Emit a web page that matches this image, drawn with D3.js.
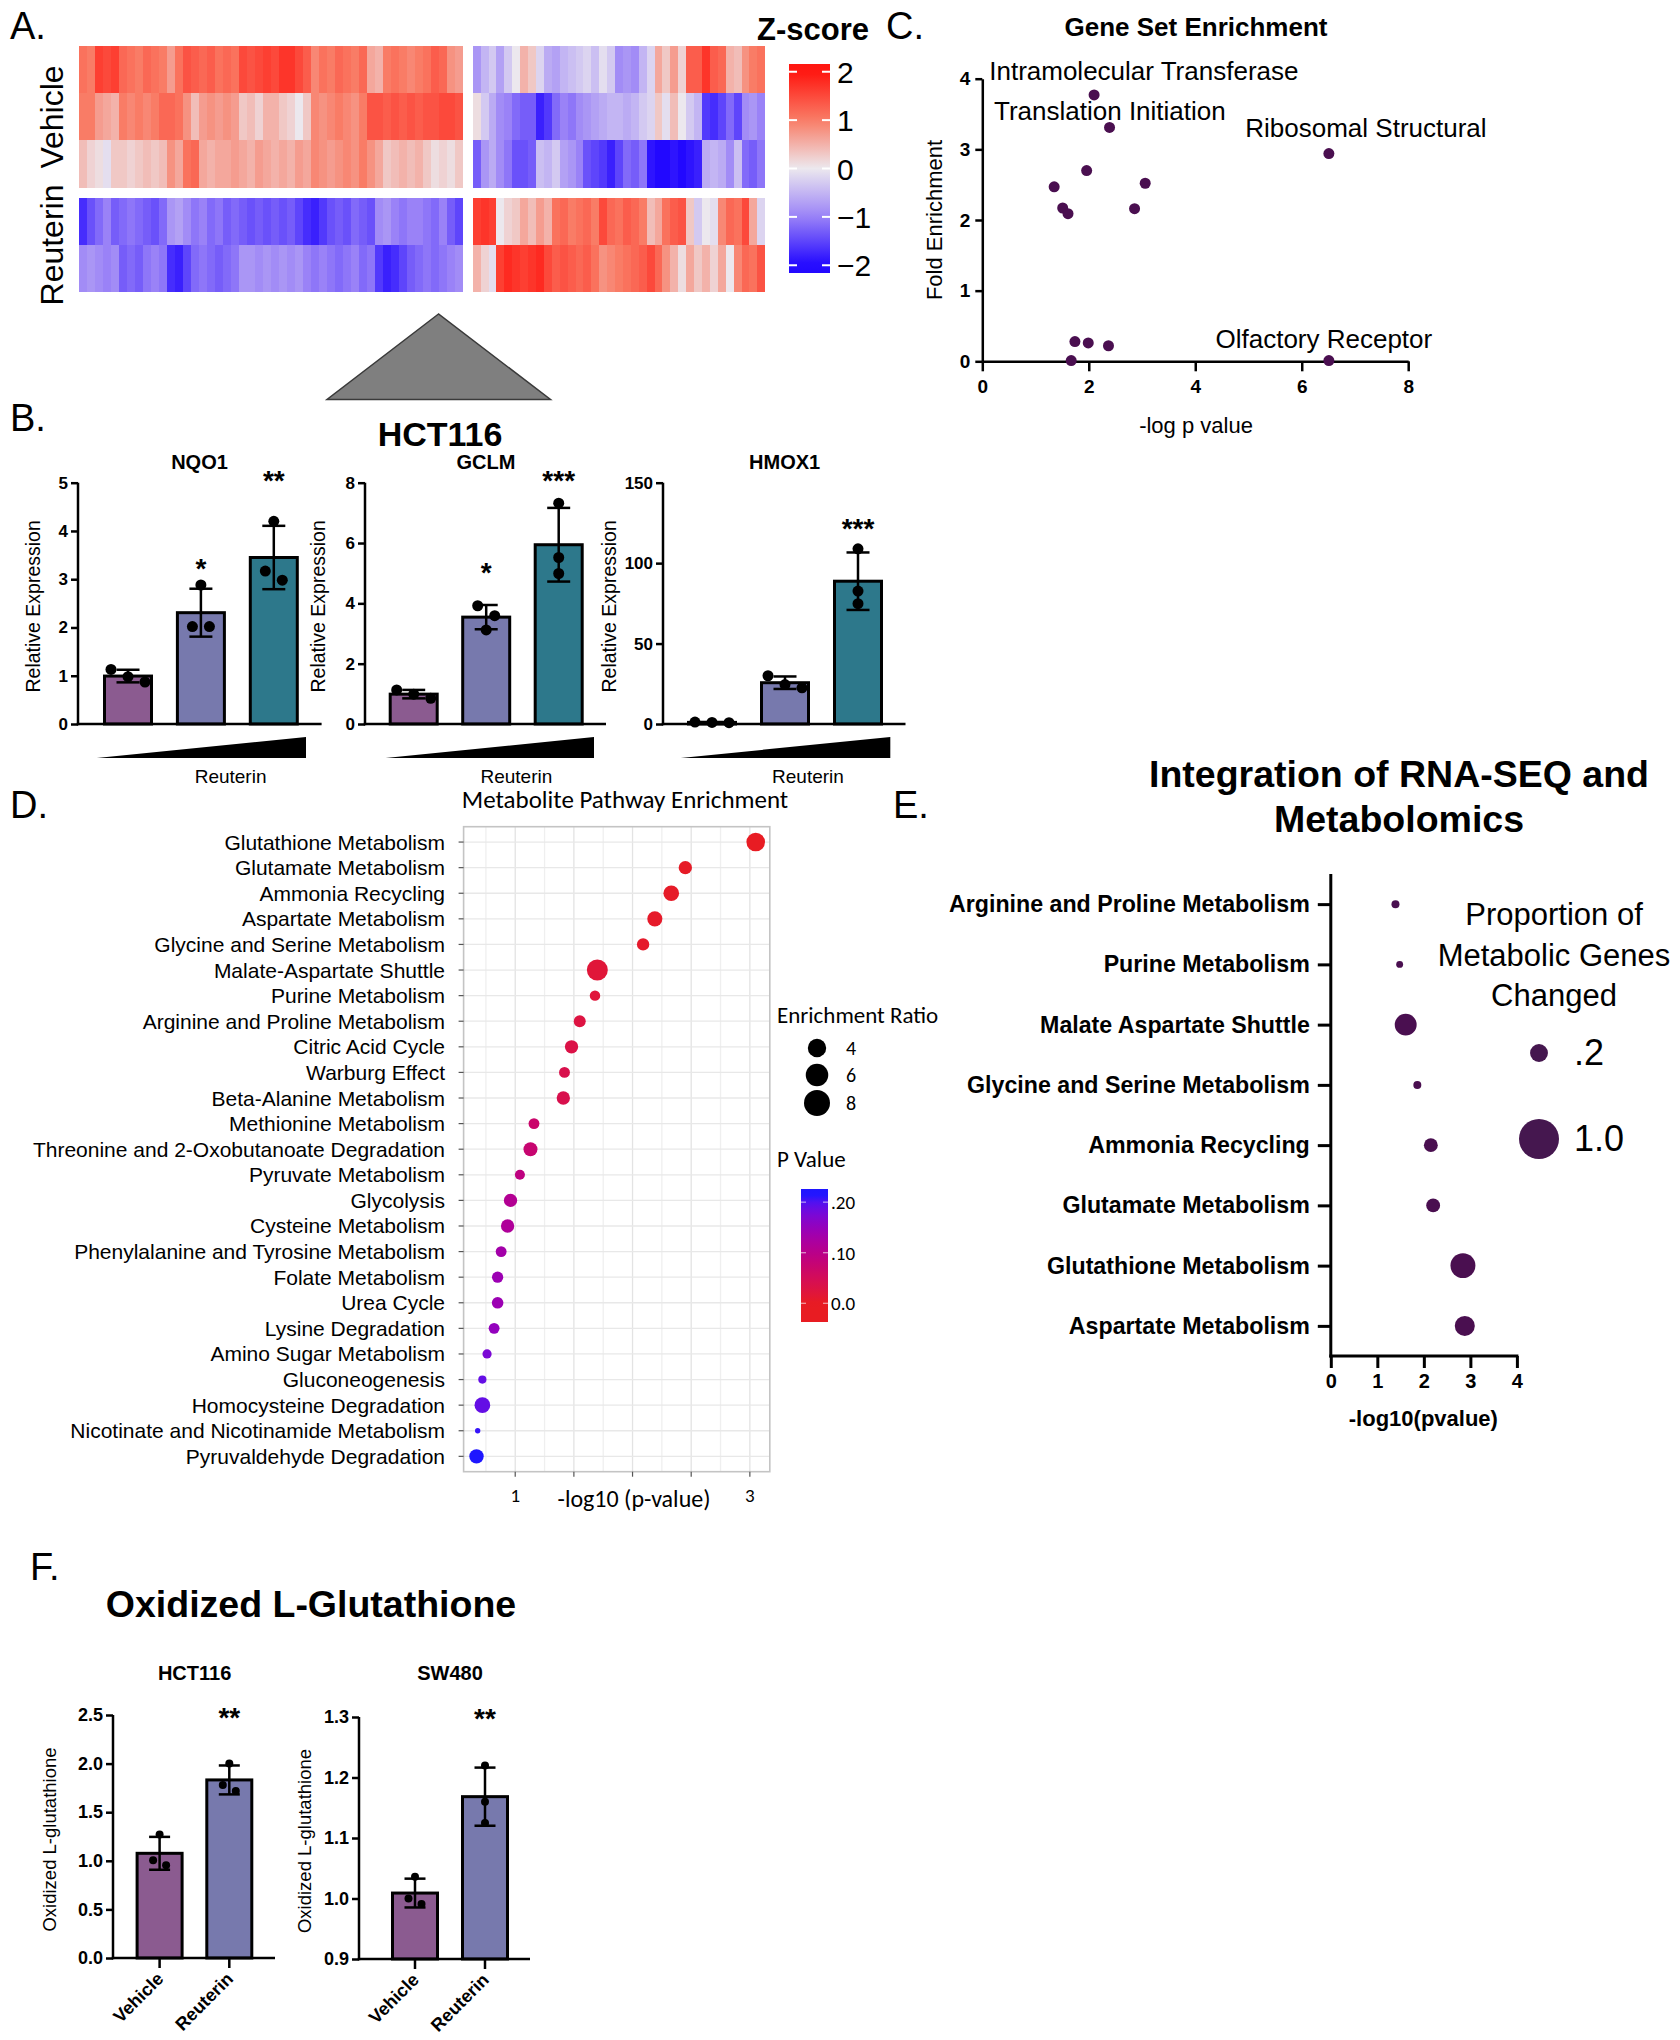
<!DOCTYPE html>
<html>
<head>
<meta charset="utf-8">
<title>Reuterin multi-panel figure</title>
<script src="https://cdn.jsdelivr.net/npm/d3@7/dist/d3.min.js"></script>
<style>
html,body{margin:0;padding:0;background:#ffffff;}
svg{display:block;}
</style>
</head>
<body>
<div id="fig"></div>
<script>
// ======================= DATA =======================
// Panel A: z-scored expression, rows = Vehicle x3, Reuterin x2
const heatRowGroups = ["Vehicle", "Reuterin"];
const heatLeft = [
  [1.1,1.0,1.6,1.5,1.6,1.2,1.1,1.0,1.2,1.1,1.0,0.7,1.1,1.4,1.3,1.2,1.3,1.1,1.2,1.1,1.5,1.4,1.5,1.6,1.5,1.7,1.7,1.5,1.3,0.9,1.1,1.0,1.2,1.1,1.0,1.2,0.6,0.5,1.0,1.1,1.0,0.9,1.0,1.1,1.3,1.2,0.8,0.7],
  [1.0,1.0,0.7,0.6,0.5,1.0,0.9,1.0,0.9,1.0,1.2,1.2,1.1,0.8,0.4,0.7,0.8,0.7,0.8,0.7,0.3,0.4,0.2,0.5,0.5,0.3,0.2,0.0,0.3,0.9,0.8,0.9,1.0,0.9,0.8,1.0,1.4,1.4,1.3,1.4,1.3,1.4,1.3,1.4,1.4,1.5,1.5,1.4],
  [0.4,0.2,0.1,-0.1,0.3,0.3,0.2,0.3,0.4,0.3,0.4,0.8,0.6,1.1,1.2,0.6,0.5,0.6,0.6,0.7,0.6,0.5,0.7,0.6,0.5,0.6,0.5,0.7,0.6,0.9,0.8,0.7,0.8,0.9,0.8,1.0,0.8,0.6,0.3,0.4,0.5,0.4,0.5,0.3,0.1,0.2,0.1,0.3],
  [-1.7,-1.4,-1.2,-1.0,-1.3,-1.2,-1.1,-1.2,-1.3,-1.4,-1.2,-0.8,-0.7,-0.9,-1.1,-1.0,-1.2,-1.1,-1.3,-1.2,-1.3,-1.4,-1.3,-1.4,-1.3,-1.4,-1.3,-1.5,-1.7,-1.8,-1.6,-1.4,-1.3,-1.4,-1.2,-1.3,-1.4,-0.9,-0.8,-1.0,-1.1,-1.0,-1.0,-1.1,-1.2,-1.0,-1.3,-1.5],
  [-0.9,-0.8,-0.9,-1.0,-0.9,-1.3,-1.2,-1.3,-1.1,-1.0,-1.1,-1.7,-1.8,-1.5,-1.2,-1.1,-1.2,-1.3,-1.2,-1.1,-0.8,-0.8,-0.9,-0.8,-0.9,-0.8,-0.9,-0.8,-1.0,-1.1,-1.0,-1.1,-1.2,-1.1,-1.0,-1.2,-1.1,-1.6,-1.8,-1.7,-1.5,-1.3,-1.2,-1.1,-1.2,-1.1,-1.0,-0.9]
];
const heatRight = [
  [-0.8,-0.5,-0.3,-0.7,-0.3,0.0,0.5,0.3,-0.2,-0.6,-0.7,-0.5,-0.4,-0.3,-0.2,-0.4,-0.1,-0.3,-0.9,-0.8,-0.9,-0.5,-0.2,0.6,0.3,0.7,0.2,1.3,1.3,1.7,1.3,1.2,0.5,0.4,0.8,1.0,1.1],
  [0.1,-0.3,-0.6,-0.9,-1.0,-1.2,-1.3,-1.3,-1.8,-1.6,-1.2,-1.0,-1.1,-0.9,-0.8,-0.7,-0.6,-0.5,-0.5,-0.6,-0.5,-0.3,-0.2,0.3,-0.1,0.4,0.0,-0.3,-0.5,-1.6,-1.7,-1.5,-1.2,-1.5,-0.9,-0.8,-1.0],
  [-1.3,-0.8,-0.6,-0.9,-1.1,-1.4,-1.4,-1.3,-0.4,-0.5,-0.3,-0.7,-0.8,-1.0,-1.4,-1.5,-1.6,-1.8,-1.5,-1.2,-1.3,-1.1,-1.9,-2.0,-2.0,-1.9,-2.0,-1.9,-1.8,-0.6,-0.5,-0.6,-0.9,-0.4,-1.2,-1.3,-1.1],
  [1.6,1.7,1.6,0.0,0.2,0.3,0.6,0.4,0.7,0.5,1.1,1.2,1.0,1.1,1.2,1.0,1.5,1.2,1.1,1.3,1.2,1.0,0.4,0.6,1.1,1.3,1.4,0.3,-0.3,0.0,-0.1,0.9,1.2,1.1,1.5,0.6,-0.2],
  [0.5,0.2,-0.1,1.6,1.8,1.7,1.6,1.7,1.8,1.5,1.3,1.4,1.3,1.2,1.3,1.1,0.8,0.9,1.0,1.1,1.2,1.3,1.5,1.2,0.8,0.5,0.1,0.6,0.3,0.5,0.2,0.6,0.0,0.9,1.2,1.1,1.4]
];
const zTicks = [2, 1, 0, -1, -2];

// Panel B: HCT116 relative expression, replicate values per dose
const doseLevels = ["Low", "Mid", "High"];
const nqo1Reps  = [[1.13,0.87,0.98],[2.88,2.02,2.02],[4.20,2.98,3.17]];
const gclmReps  = [[1.13,0.85,0.99],[3.92,3.59,3.12],[7.32,5.52,4.99]];
const hmox1Reps = [[1.2,0.8,1.0],[30.0,22.5,24.5],[108.9,82.6,74.8]];
const nqo1Stars  = ["", "*", "**"];
const gclmStars  = ["", "*", "***"];
const hmox1Stars = ["", "", "***"];
const nqo1Ticks  = [0,1,2,3,4,5];
const gclmTicks  = [0,2,4,6,8];
const hmox1Ticks = [0,50,100,150];

// Panel C: gene set enrichment
const gseaNegLogP = [2.10,2.39,6.51,1.35,1.51,1.61,1.96,3.06,2.86,1.74,1.99,2.37,1.67,6.51];
const gseaFold    = [3.77,3.31,2.94,2.47,2.17,2.09,2.70,2.52,2.16,0.28,0.26,0.22,0.01,0.01];
const gseaLabels  = ["Intramolecular Transferase","Translation Initiation","Ribosomal Structural","Olfactory Receptor"];
const gseaXTicks  = [0,2,4,6,8];
const gseaYTicks  = [0,1,2,3,4];

// Panel D: metabolite pathway enrichment
const pathways = ["Glutathione Metabolism","Glutamate Metabolism","Ammonia Recycling","Aspartate Metabolism",
  "Glycine and Serine Metabolism","Malate-Aspartate Shuttle","Purine Metabolism","Arginine and Proline Metabolism",
  "Citric Acid Cycle","Warburg Effect","Beta-Alanine Metabolism","Methionine Metabolism",
  "Threonine and 2-Oxobutanoate Degradation","Pyruvate Metabolism","Glycolysis","Cysteine Metabolism",
  "Phenylalanine and Tyrosine Metabolism","Folate Metabolism","Urea Cycle","Lysine Degradation",
  "Amino Sugar Metabolism","Gluconeogenesis","Homocysteine Degradation","Nicotinate and Nicotinamide Metabolism",
  "Pyruvaldehyde Degradation"];
const pathNegLogP = [3.05,2.45,2.33,2.19,2.09,1.70,1.68,1.55,1.48,1.42,1.41,1.16,1.13,1.04,0.96,0.935,0.88,0.85,0.85,0.82,0.76,0.72,0.72,0.68,0.67];
const pathEnrich  = [4.1,2.1,2.9,2.7,1.8,5.2,1.3,1.7,2.1,1.4,2.1,1.4,2.3,1.2,2.1,2.1,1.4,1.5,1.6,1.4,1.0,0.8,2.9,0.34,2.45];
const pathPValue  = [0.001,0.004,0.005,0.006,0.008,0.020,0.021,0.028,0.033,0.038,0.039,0.069,0.074,0.091,0.110,0.116,0.132,0.141,0.141,0.151,0.174,0.190,0.190,0.209,0.214];
const enrichLegend = [4, 6, 8];
const pLegendTicks = [0.20, 0.10, 0.0];

// Panel E: integration of RNA-seq and metabolomics
const integCats = ["Arginine and Proline Metabolism","Purine Metabolism","Malate Aspartate Shuttle",
  "Glycine and Serine Metabolism","Ammonia Recycling","Glutamate Metabolism","Glutathione Metabolism","Aspartate Metabolism"];
const integNegLogP = [1.39,1.48,1.61,1.86,2.15,2.20,2.84,2.88];
const integProp    = [0.04,0.03,0.30,0.04,0.12,0.12,0.39,0.25];
const integLegend  = [0.2, 1.0];
const integXTicks  = [0,1,2,3,4];

// Panel F: oxidized L-glutathione
const oxCats = ["Vehicle", "Reuterin"];
const hctOxReps = [[1.27,0.955,1.006],[2.0,1.717,1.779]];
const swOxReps  = [[1.036,0.991,1.0],[1.22,1.16,1.125]];
const hctOxTicks = [0,0.5,1.0,1.5,2.0,2.5];
const swOxTicks  = [0.9,1.0,1.1,1.2,1.3];

// ======================= DRAWING =======================
const W = 1680, H = 2040;
const SANS = "'Liberation Sans', Arial, Helvetica, sans-serif";
const CAL = "Carlito, Lato, 'Open Sans', sans-serif";
const svg = d3.select("#fig").append("svg").attr("width", W).attr("height", H);
svg.append("rect").attr("width", W).attr("height", H).attr("fill", "#ffffff");
const defs = svg.append("defs");

function txt(g, x, y, s, o = {}) {
  return g.append("text").attr("x", x).attr("y", y).text(s)
    .attr("font-family", o.family || SANS).attr("font-size", o.size || 16)
    .attr("font-weight", o.weight || "normal").attr("text-anchor", o.anchor || "start")
    .attr("fill", o.fill || "#000");
}
function styleAxis(sel, o) {
  sel.attr("font-family", null).attr("font-size", null);
  sel.select(".domain").attr("stroke", o.stroke || "#000").attr("stroke-width", o.sw == null ? 2.5 : o.sw);
  sel.selectAll(".tick line").attr("stroke", o.stroke || "#000").attr("stroke-width", o.sw == null ? 2.5 : o.sw);
  sel.selectAll(".tick text").attr("font-family", o.family || SANS).attr("font-size", o.size)
    .attr("font-weight", o.weight || "bold").attr("fill", "#000");
}

// Panel letters
[["A.", 10, 39], ["B.", 10, 431], ["C.", 886, 39], ["D.", 10, 818], ["E.", 893, 818], ["F.", 30, 1580]]
  .forEach(([s, x, y]) => txt(svg, x, y, s, { size: 38 }));

// ---------------- Panel A: heatmap ----------------
const zColor = d3.scaleLinear().domain([-2, -1, 0, 1, 2])
  .range(["#2208ff", "#9a82f7", "#ece8ee", "#f97c66", "#ff1610"]).clamp(true);
const gA = svg.append("g").attr("shape-rendering", "crispEdges");
const colL = d3.scaleBand().domain(d3.range(heatLeft[0].length)).range([78.7, 463]);
const colR = d3.scaleBand().domain(d3.range(heatRight[0].length)).range([472.7, 765.3]);
const rowVeh = d3.scaleBand().domain([0, 1, 2]).range([46, 187.5]);
const rowReu = d3.scaleBand().domain([3, 4]).range([197.5, 291.7]);
const rowPos = r => (r < 3 ? rowVeh(r) : rowReu(r));
const rowH = rowVeh.bandwidth();
[[heatLeft, colL], [heatRight, colR]].forEach(([mat, xs]) => {
  mat.forEach((row, r) => {
    gA.selectAll(null).data(row).enter().append("rect")
      .attr("x", (d, i) => xs(i)).attr("y", rowPos(r))
      .attr("width", (d, i) => xs.bandwidth() + (i === row.length - 1 ? 0 : 0.6))
      .attr("height", rowH + (r === 2 || r === 4 ? 0 : 0.6))
      .attr("fill", d => zColor(d));
  });
});
// group labels
txt(svg, 0, 0, heatRowGroups[0], { size: 32, anchor: "middle" }).attr("transform", "translate(63,117) rotate(-90)");
txt(svg, 0, 0, heatRowGroups[1], { size: 32, anchor: "middle" }).attr("transform", "translate(63,245) rotate(-90)");
// colour key
const zBar = d3.scaleLinear().domain([-2.16, 2.16]).range([273, 64]);
const zGrad = defs.append("linearGradient").attr("id", "zgrad").attr("x1", 0).attr("y1", 1).attr("x2", 0).attr("y2", 0);
d3.range(0, 1.0001, 0.05).forEach(t => {
  const v = -2.16 + t * 4.32;
  zGrad.append("stop").attr("offset", t).attr("stop-color", zColor(v));
});
svg.append("rect").attr("x", 789).attr("y", 64).attr("width", 41).attr("height", 209).attr("fill", "url(#zgrad)");
zTicks.forEach(v => {
  svg.append("line").attr("x1", 789).attr("x2", 797).attr("y1", zBar(v)).attr("y2", zBar(v)).attr("stroke", "#fff").attr("stroke-width", 2);
  svg.append("line").attr("x1", 822).attr("x2", 830).attr("y1", zBar(v)).attr("y2", zBar(v)).attr("stroke", "#fff").attr("stroke-width", 2);
  txt(svg, 837, zBar(v) + 11, v < 0 ? "\u2212" + Math.abs(v) : String(v), { size: 30 });
});
txt(svg, 757, 40, "Z-score", { size: 31, weight: "bold" });

// connector triangle
svg.append("polygon").attr("points", "438.5,314 327,399.5 550.5,399.5").attr("fill", "#7f7f7f").attr("stroke", "#3a3a3a").attr("stroke-width", 1.5);

// ---------------- bar chart helper (Panels B & F) ----------------
function swarmOffsets(vals, y, r, gap) {
  const ys = vals.map(v => y(v));
  const idx = d3.range(vals.length).sort((a, b) => ys[a] - ys[b]);
  const clusters = []; let cur = [idx[0]];
  for (let k = 1; k < idx.length; k++) {
    if (ys[idx[k]] - ys[cur[cur.length - 1]] < 2 * r + 1) cur.push(idx[k]);
    else { clusters.push(cur); cur = [idx[k]]; }
  }
  clusters.push(cur);
  const off = new Array(vals.length).fill(0);
  clusters.forEach(cl => cl.forEach((id, j) => { off[id] = (j - (cl.length - 1) / 2) * gap; }));
  return off;
}
function prismBars(o) {
  const g = svg.append("g");
  const y = d3.scaleLinear().domain(o.domain).range([o.yBottom, o.yTop]);
  const x = d3.scalePoint().domain(o.cats).range([o.c0, o.c1]);
  o.reps.forEach((vals, i) => {
    const m = d3.mean(vals), sd = d3.deviation(vals), c = x(o.cats[i]);
    g.append("rect").attr("x", c - o.barW / 2).attr("y", y(m)).attr("width", o.barW)
      .attr("height", Math.max(0, o.yBottom - y(m))).attr("fill", o.colors[i])
      .attr("stroke", "#000").attr("stroke-width", 3);
    const lo = y(m - sd), hi = y(m + sd);
    g.append("line").attr("x1", c).attr("x2", c).attr("y1", lo).attr("y2", hi).attr("stroke", "#000").attr("stroke-width", 2.5);
    [lo, hi].forEach(yy => g.append("line").attr("x1", c - o.cap / 2).attr("x2", c + o.cap / 2).attr("y1", yy).attr("y2", yy).attr("stroke", "#000").attr("stroke-width", 2.5));
    const off = swarmOffsets(vals, y, o.r, o.gap);
    vals.forEach((v, k) => g.append("circle").attr("cx", c + off[k]).attr("cy", y(v)).attr("r", o.r).attr("fill", "#000"));
    if (o.stars && o.stars[i]) txt(g, c, o.starY[i] + 15, o.stars[i], { size: 28, weight: "bold", anchor: "middle" });
  });
  const ya = g.append("g").attr("transform", `translate(${o.axisX},0)`)
    .call(d3.axisLeft(y).tickValues(o.ticks).tickFormat(o.fmt).tickSize(7).tickSizeOuter(0).tickPadding(3));
  styleAxis(ya, { size: o.tickFont, weight: "bold" });
  ya.select(".domain").attr("d", `M0,${o.yTop}V${o.yBottom + 1.25}`);
  g.append("line").attr("x1", o.axisX - 1.25).attr("x2", o.xEnd).attr("y1", o.yBottom).attr("y2", o.yBottom).attr("stroke", "#000").attr("stroke-width", 2.5);
  if (o.title) txt(g, o.titleX, o.titleY, o.title, { size: o.titleSize, weight: "bold", anchor: "middle" });
  txt(g, 0, 0, o.ylabel, { size: o.ylabelSize, anchor: "middle" }).attr("transform", `translate(${o.ylabelX},${(o.yTop + o.yBottom) / 2 + 3}) rotate(-90)`);
  return { g, x, y };
}

// ---------------- Panel B ----------------
txt(svg, 440, 446, "HCT116", { size: 34, weight: "bold", anchor: "middle" });
const doseColors = ["#8b5b90", "#7779ad", "#2d788b"];
const bCfg = [
  { title: "NQO1", reps: nqo1Reps, stars: nqo1Stars, starY: [0, 563, 475], ticks: nqo1Ticks, domain: [0, 5], axisX: 78, xEnd: 321.6, c0: 128, c1: 273.8, titleX: 199.5, ylabelX: 40, wedge: [96.8, 306], reuX: 230.6 },
  { title: "GCLM", reps: gclmReps, stars: gclmStars, starY: [0, 567, 475], ticks: gclmTicks, domain: [0, 8], axisX: 365, xEnd: 606, c0: 413.7, c1: 558.7, titleX: 486, ylabelX: 325, wedge: [385.6, 594], reuX: 516.4 },
  { title: "HMOX1", reps: hmox1Reps, stars: hmox1Stars, starY: [0, 0, 523], ticks: hmox1Ticks, domain: [0, 150], axisX: 663, xEnd: 905.5, c0: 712, c1: 858, titleX: 784.6, ylabelX: 616, wedge: [680.8, 890.3], reuX: 808 }
];
bCfg.forEach(c => {
  prismBars({
    cats: doseLevels, reps: c.reps, colors: doseColors, domain: c.domain, ticks: c.ticks, fmt: d3.format("d"),
    yBottom: 724, yTop: 482.7, axisX: c.axisX, xEnd: c.xEnd, c0: c.c0, c1: c.c1, barW: 47, cap: 23, r: 5.5, gap: 17,
    stars: c.stars, starY: c.starY, tickFont: 17, title: c.title, titleX: c.titleX, titleY: 469, titleSize: 20,
    ylabel: "Relative Expression", ylabelX: c.ylabelX, ylabelSize: 19.5
  });
  svg.append("polygon").attr("points", `${c.wedge[0]},758 ${c.wedge[1]},737 ${c.wedge[1]},758`).attr("fill", "#000");
  txt(svg, c.reuX, 783, "Reuterin", { size: 19, anchor: "middle" });
});

// ---------------- Panel C ----------------
const gC = svg.append("g");
const cX = d3.scaleLinear().domain([0, 8]).range([982.3, 1408.2]);
const cY = d3.scaleLinear().domain([0, 4]).range([361.3, 78.7]);
txt(gC, 1196, 36, "Gene Set Enrichment", { size: 26, weight: "bold", anchor: "middle" });
const cxa = gC.append("g").attr("transform", `translate(0,${cY(0)})`)
  .call(d3.axisBottom(cX).tickValues(gseaXTicks).tickFormat(d3.format("d")).tickSize(10).tickSizeOuter(0).tickPadding(8));
styleAxis(cxa, { size: 19 });
const cya = gC.append("g").attr("transform", `translate(${cX(0)},0)`)
  .call(d3.axisLeft(cY).tickValues(gseaYTicks).tickFormat(d3.format("d")).tickSize(7).tickSizeOuter(0).tickPadding(5));
styleAxis(cya, { size: 19 });
gC.selectAll("circle.gs").data(gseaNegLogP).enter().append("circle").attr("class", "gs")
  .attr("cx", d => cX(d)).attr("cy", (d, i) => cY(gseaFold[i])).attr("r", 5.5).attr("fill", "#4a0f50");
const gseaLabelAnchor = [[0.13, 3.98], [0.22, 3.42], [4.94, 3.175], [4.38, 0.19]];
gseaLabels.forEach((s, i) => txt(gC, cX(gseaLabelAnchor[i][0]), cY(gseaLabelAnchor[i][1]), s, { size: 26 }));
txt(gC, 0, 0, "Fold Enrichment", { size: 22, anchor: "middle" }).attr("transform", `translate(942,${(cY(0) + cY(4)) / 2}) rotate(-90)`);
txt(gC, 1196, 433, "-log p value", { size: 22, anchor: "middle" });

// ---------------- Panel D ----------------
const gD = svg.append("g");
const dL = 463.6, dR = 769.8, dT = 826.7, dB = 1471.7;
const dX = d3.scaleLinear().domain([0.56, 3.17]).range([dL, dR]);
const dY = d3.scalePoint().domain(pathways).range([dT, dB]).padding(0.6);
const dSize = d3.scaleSqrt().domain([0, 8]).range([0, 13]);
const pColor = d3.scaleLinear().domain([0, 0.214]).range(["#e81c22", "#1e16ff"]).interpolate(d3.interpolateLab).clamp(true);
txt(gD, 625, 808, "Metabolite Pathway Enrichment", { size: 25, family: CAL, anchor: "middle" });
gD.append("rect").attr("x", dL).attr("y", dT).attr("width", dR - dL).attr("height", dB - dT).attr("fill", "#fff");
d3.range(0.75, 3.01, 0.25).forEach(v => gD.append("line").attr("x1", dX(v)).attr("x2", dX(v)).attr("y1", dT).attr("y2", dB)
  .attr("stroke", Math.abs(v * 2 - Math.round(v * 2)) < 1e-6 ? "#e3e3e3" : "#efefef").attr("stroke-width", 1.3));
pathways.forEach(p => gD.append("line").attr("x1", dL).attr("x2", dR).attr("y1", dY(p)).attr("y2", dY(p)).attr("stroke", "#e8e8e8").attr("stroke-width", 1.3));
gD.append("rect").attr("x", dL).attr("y", dT).attr("width", dR - dL).attr("height", dB - dT).attr("fill", "none").attr("stroke", "#c4c4c4").attr("stroke-width", 1.6);
pathways.forEach(p => {
  gD.append("line").attr("x1", dL - 5).attr("x2", dL).attr("y1", dY(p)).attr("y2", dY(p)).attr("stroke", "#555").attr("stroke-width", 1.2);
  txt(gD, 445, dY(p) + 7.5, p, { size: 21, anchor: "end" });
});
[1.0, 1.5, 2.0, 2.5, 3.0].forEach(v => gD.append("line").attr("x1", dX(v)).attr("x2", dX(v)).attr("y1", dB).attr("y2", dB + 5).attr("stroke", "#555").attr("stroke-width", 1.2));
gD.selectAll("circle.pw").data(pathways).enter().append("circle").attr("class", "pw")
  .attr("cx", (d, i) => dX(pathNegLogP[i])).attr("cy", d => dY(d))
  .attr("r", (d, i) => dSize(pathEnrich[i])).attr("fill", (d, i) => pColor(pathPValue[i]));
txt(gD, dX(1), 1502, "1", { size: 19, family: CAL, anchor: "middle" });
txt(gD, dX(3), 1502, "3", { size: 19, family: CAL, anchor: "middle" });
txt(gD, 634, 1507, "-log10 (p-value)", { size: 24, family: CAL, anchor: "middle" });
// legends
txt(gD, 777, 1023, "Enrichment Ratio", { size: 23, family: CAL });
const legY = [1048, 1075, 1103];
enrichLegend.forEach((v, i) => {
  gD.append("circle").attr("cx", 817).attr("cy", legY[i]).attr("r", dSize(v)).attr("fill", "#000");
  txt(gD, 846, legY[i] + 7, String(v), { size: 20, family: CAL });
});
txt(gD, 777, 1167, "P Value", { size: 23, family: CAL });
const pBar = d3.scaleLinear().domain([-0.037, 0.226]).range([1322, 1189]);
const pGrad = defs.append("linearGradient").attr("id", "pgrad").attr("x1", 0).attr("y1", 1).attr("x2", 0).attr("y2", 0);
d3.range(0, 1.0001, 0.05).forEach(t => pGrad.append("stop").attr("offset", t).attr("stop-color", pColor(-0.037 + t * 0.263)));
gD.append("rect").attr("x", 801).attr("y", 1189).attr("width", 27).attr("height", 133).attr("fill", "url(#pgrad)");
const pFmt = ["\u002E20", "\u002E10", "0.0"];
pLegendTicks.forEach((v, i) => {
  gD.append("line").attr("x1", 801).attr("x2", 806).attr("y1", pBar(v)).attr("y2", pBar(v)).attr("stroke", "#fff").attr("stroke-opacity", 0.6).attr("stroke-width", 1.2);
  gD.append("line").attr("x1", 823).attr("x2", 828).attr("y1", pBar(v)).attr("y2", pBar(v)).attr("stroke", "#fff").attr("stroke-opacity", 0.6).attr("stroke-width", 1.2);
  txt(gD, 831, pBar(v) + 7, pFmt[i], { size: 19, family: CAL });
});

// ---------------- Panel E ----------------
const gE = svg.append("g");
const eX = d3.scaleLinear().domain([0, 4]).range([1330.8, 1516.9]);
const eY = d3.scalePoint().domain(integCats).range([874, 1356]).padding(0.5);
const eSize = d3.scaleSqrt().domain([0, 1]).range([0, 20]);
txt(gE, 1399, 787, "Integration of RNA-SEQ and", { size: 37.5, weight: "bold", anchor: "middle" });
txt(gE, 1399, 832, "Metabolomics", { size: 37.5, weight: "bold", anchor: "middle" });
const eya = gE.append("g").attr("transform", `translate(${eX(0)},0)`)
  .call(d3.axisLeft(eY).tickSize(13).tickSizeOuter(0).tickPadding(8));
styleAxis(eya, { size: 23.2, sw: 3 });
eya.select(".domain").attr("d", "M0,874V1357.5");
const exa = gE.append("g").attr("transform", "translate(0,1356)")
  .call(d3.axisBottom(eX).tickValues(integXTicks).tickFormat(d3.format("d")).tickSize(12).tickSizeOuter(0).tickPadding(6));
styleAxis(exa, { size: 20, sw: 3 });
exa.select(".domain").attr("d", `M${eX(0) - 1.5},0H${eX(4) + 1.5}`);
gE.selectAll("circle.ig").data(integCats).enter().append("circle").attr("class", "ig")
  .attr("cx", (d, i) => eX(integNegLogP[i])).attr("cy", d => eY(d)).attr("r", (d, i) => eSize(integProp[i])).attr("fill", "#4a0f50");
txt(gE, eX(2) - 0.5, 1426, "-log10(pvalue)", { size: 22, weight: "bold", anchor: "middle" });
["Proportion of", "Metabolic Genes", "Changed"].forEach((s, i) => txt(gE, 1554, 925 + i * 40.5, s, { size: 31, anchor: "middle" }));
const eLegY = [1053, 1139];
integLegend.forEach((v, i) => {
  gE.append("circle").attr("cx", 1539).attr("cy", eLegY[i]).attr("r", eSize(v)).attr("fill", "#45174f");
  txt(gE, 1574, eLegY[i] + 12, i === 0 ? ".2" : "1.0", { size: 36 });
});

// ---------------- Panel F ----------------
txt(svg, 311, 1617, "Oxidized L-Glutathione", { size: 37.5, weight: "bold", anchor: "middle" });
const oxColors = ["#8b5b90", "#7779ad"];
const fCfg = [
  { title: "HCT116", reps: hctOxReps, domain: [0, 2.5], ticks: hctOxTicks, yBottom: 1958, yTop: 1715, axisX: 113, xEnd: 275, c0: 159.6, c1: 229.3, titleX: 194.6, ylabelX: 56, starY: [0, 1712] },
  { title: "SW480", reps: swOxReps, domain: [0.9, 1.3], ticks: swOxTicks, yBottom: 1959, yTop: 1717, axisX: 359, xEnd: 530, c0: 415, c1: 485, titleX: 450, ylabelX: 311, starY: [0, 1713] }
];
fCfg.forEach(c => {
  const res = prismBars({
    cats: oxCats, reps: c.reps, colors: oxColors, domain: c.domain, ticks: c.ticks, fmt: d3.format(".1f"),
    yBottom: c.yBottom, yTop: c.yTop, axisX: c.axisX, xEnd: c.xEnd, c0: c.c0, c1: c.c1, barW: 45, cap: 21, r: 4, gap: 13,
    stars: ["", "**"], starY: c.starY, tickFont: 18, title: c.title, titleX: c.titleX, titleY: 1680, titleSize: 20,
    ylabel: "Oxidized L-glutathione", ylabelX: c.ylabelX, ylabelSize: 18.5
  });
  oxCats.forEach(cat => {
    const xx = res.x(cat);
    res.g.append("line").attr("x1", xx).attr("x2", xx).attr("y1", c.yBottom).attr("y2", c.yBottom + 10).attr("stroke", "#000").attr("stroke-width", 2.5);
    txt(res.g, 0, 0, cat, { size: 18, weight: "bold", anchor: "end" })
      .attr("transform", `translate(${xx + 5},${c.yBottom + 22}) rotate(-45)`);
  });
});
</script>
</body>
</html>
